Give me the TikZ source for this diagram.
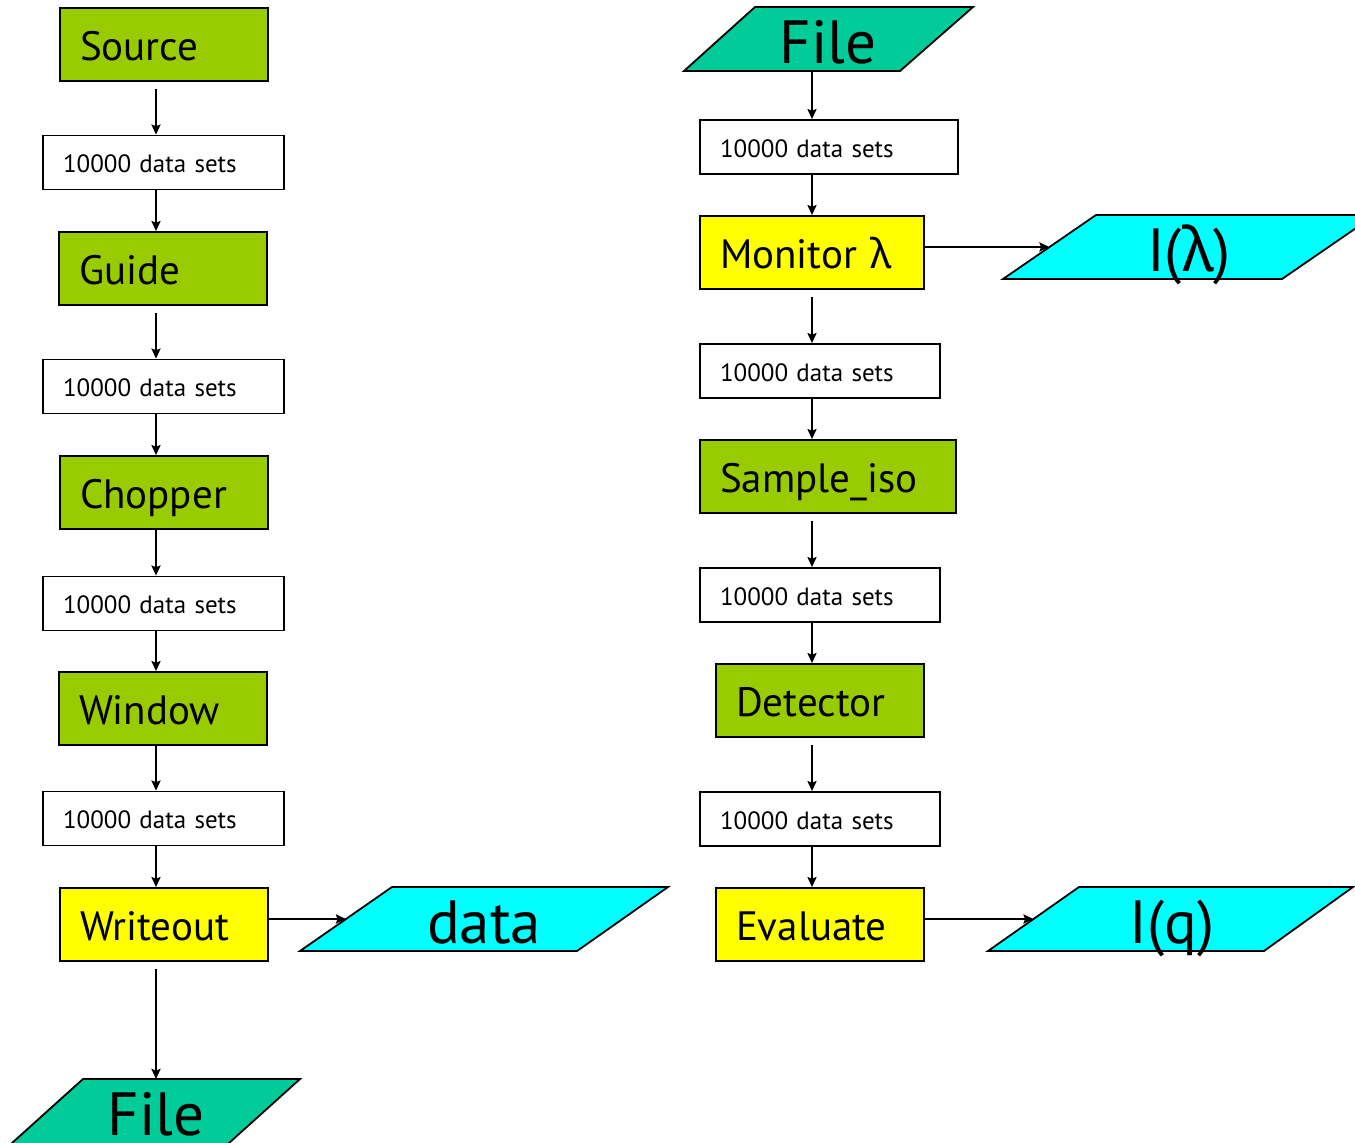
\documentclass[tikz,border=0pt]{standalone}
\usepackage{fontspec}
\setmainfont{PT Sans}
\newfontfamily\grkfont{Noto Sans}
\usetikzlibrary{arrows.meta}
\definecolor{cgreen}{HTML}{99CC00}
\definecolor{cyellow}{HTML}{FFFF00}
\definecolor{ccyan}{HTML}{00FFFF}
\definecolor{cfile}{HTML}{00CC99}
\newcommand\lam{{\grkfont λ}}
\begin{document}
\begin{tikzpicture}[x=1pt,y=-1pt,
  comp/.style={draw=black, line width=1.8pt, inner xsep=20pt, inner ysep=0pt,
    align=left, minimum height=73pt, font=\fontsize{41}{48}\selectfont,
    text height=31pt, text depth=0pt},
  dset/.style={draw=black, fill=white, line width=1.8pt, inner xsep=20pt, inner ysep=0pt,
    align=left, minimum height=54pt, font=\fontsize{25}{30}\selectfont,
    text height=20pt, text depth=0pt},
  para/.style={draw=black, line width=1.8pt, line join=miter},
  bigtxt/.style={inner sep=0pt, font=\fontsize{61}{70}\selectfont,
    text height=48pt, text depth=0pt},
  arr/.style={draw=black, line width=2.3pt,
    -{Stealth[length=10pt,width=9pt,inset=1.5pt]}},
]
\useasboundingbox (0,0) rectangle (1355,1143);
\clip (0,0) rectangle (1355,1143);

\coordinate (colL) at (156,0);
\coordinate (colR) at (812,0);

% ---------- left chain ----------
\node[comp, fill=cgreen, text width=168pt] (src) at (164,44.5) {Source};
\node[dset, text width=201pt] (ld1) at (163.5,162.5) {10000 data sets};
\node[comp, fill=cgreen, text width=168pt] (gde) at (163,268.5) {Guide};
\node[dset, text width=201pt] (ld2) at (163.5,386.5) {10000 data sets};
\node[comp, fill=cgreen, text width=168pt] (chp) at (164,492.5) {Chopper};
\node[dset, text width=201pt] (ld3) at (163.5,603.5) {10000 data sets};
\node[comp, fill=cgreen, text width=168pt] (win) at (163,708.5) {Window};
\node[dset, text width=201pt] (ld4) at (163.5,818.5) {10000 data sets};
\node[comp, fill=cyellow, text width=168pt] (wo) at (164,924.5) {Writeout};

% data output
\filldraw[para, fill=ccyan] (392,887) -- (668,887) -- (577,951) -- (300,951) -- cycle;
\node[bigtxt] (data) at (484,919) {data};
\coordinate (dataL) at (346,919);

% file output at the bottom, running off the lower edge
\filldraw[para, fill=cfile] (83,1079) -- (300,1079) -- (224.6,1147) -- (7.6,1147) -- cycle;
\node[bigtxt] (fileL) at (156,1111) {File};
\coordinate (fileLt) at (156,1079);

% ---------- right chain ----------
\filldraw[para, fill=cfile] (755,7) -- (973,7) -- (900,71) -- (684,71) -- cycle;
\node[bigtxt] (fileR) at (828,39) {File};
\coordinate (fileRb) at (812,71);

\node[dset, text width=218pt] (rd1) at (829,147) {10000 data sets};
\node[comp, fill=cyellow, text width=184pt] (mon) at (812,252.5) {Monitor \lam};
\node[dset, text width=200pt] (rd2) at (820,371) {10000 data sets};
\node[comp, fill=cgreen, text width=216pt] (smp) at (828,476.5) {Sample\_iso};
\node[dset, text width=200pt] (rd3) at (820,595) {10000 data sets};
\node[comp, fill=cgreen, text width=168pt] (det) at (820,700.5) {Detector};
\node[dset, text width=200pt] (rd4) at (820,819) {10000 data sets};
\node[comp, fill=cyellow, text width=168pt] (evl) at (820,924.5) {Evaluate};

% I(lambda) output
\filldraw[para, fill=ccyan] (1096,215) -- (1375,215) -- (1282,279) -- (1003,279) -- cycle;
\node[bigtxt] (ilam) at (1189,247) {I(\lam)};
\coordinate (ilamL) at (1049.5,247);

% I(q) output
\filldraw[para, fill=ccyan] (1079,887) -- (1353,887) -- (1264,951) -- (988,951) -- cycle;
\node[bigtxt] (iq) at (1172,919) {I(q)};
\coordinate (iqL) at (1033.5,919);

% ---------- connectors ----------
\draw[arr, shorten <=7pt] (src.south -| colL) -- (ld1.north -| colL);
\draw[arr] (ld1.south -| colL) -- (gde.north -| colL);
\draw[arr, shorten <=7pt] (gde.south -| colL) -- (ld2.north -| colL);
\draw[arr] (ld2.south -| colL) -- (chp.north -| colL);
\draw[arr] (chp.south -| colL) -- (ld3.north -| colL);
\draw[arr] (ld3.south -| colL) -- (win.north -| colL);
\draw[arr] (win.south -| colL) -- (ld4.north -| colL);
\draw[arr] (ld4.south -| colL) -- (wo.north -| colL);
\draw[arr, shorten <=7pt] (wo.south -| colL) -- (fileLt);
\draw[arr] (wo.east |- dataL) -- (dataL);

\draw[arr] (fileRb) -- (rd1.north -| colR);
\draw[arr] (rd1.south -| colR) -- (mon.north -| colR);
\draw[arr, shorten <=7pt] (mon.south -| colR) -- (rd2.north -| colR);
\draw[arr] (rd2.south -| colR) -- (smp.north -| colR);
\draw[arr, shorten <=7pt] (smp.south -| colR) -- (rd3.north -| colR);
\draw[arr] (rd3.south -| colR) -- (det.north -| colR);
\draw[arr, shorten <=7pt] (det.south -| colR) -- (rd4.north -| colR);
\draw[arr] (rd4.south -| colR) -- (evl.north -| colR);
\draw[arr] (mon.east |- ilamL) -- (ilamL);
\draw[arr] (evl.east |- iqL) -- (iqL);
\end{tikzpicture}
\end{document}
